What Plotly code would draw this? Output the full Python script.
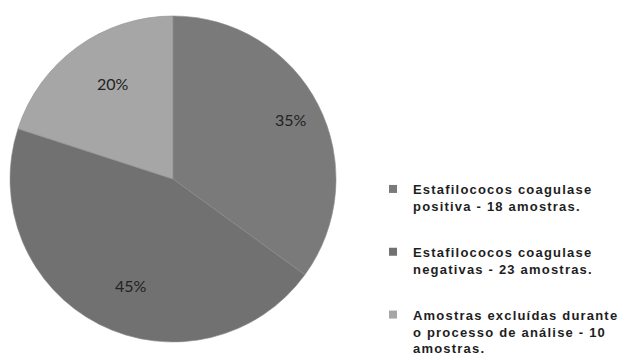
import math
import plotly.graph_objects as go

label_lines = [
    ["Estafilococos coagulase", "positiva - 18 amostras."],
    ["Estafilococos coagulase", "negativas - 23 amostras."],
    ["Amostras excluídas durante", "o processo de análise - 10", "amostras."],
]
values = [35, 45, 20]
pct_text = ["35%", "45%", "20%"]
colors = ["#7a7a7a", "#717171", "#a6a6a6"]

W, H = 618, 356
cx, cy, R = 173, 179, 163

plain_labels = [" ".join(l) for l in label_lines]
legend_labels = ["<br>".join('<span style="letter-spacing:1.2px">%s</span>' % s for s in l)
                 for l in label_lines]

fig = go.Figure()
fig.add_trace(go.Pie(
    labels=plain_labels,
    values=values,
    sort=False,
    direction="clockwise",
    rotation=0,
    marker=dict(colors=colors, line=dict(color="#8c8c8c", width=0.6)),
    textinfo="none",
    hoverinfo="label+percent",
    showlegend=False,
    domain=dict(x=[(cx - R) / W, (cx + R) / W], y=[(H - cy - R) / H, (H - cy + R) / H]),
))

# legend entries (one group each so the spacing between entries can be set)
for i, (name, c) in enumerate(zip(legend_labels, colors)):
    fig.add_trace(go.Scatter(
        x=[None], y=[None], mode="markers", name=name,
        marker=dict(symbol="square", size=8, color=c),
        legendgroup="g%d" % i, showlegend=True, hoverinfo="skip",
    ))

# percentage labels placed along each slice bisector
total = sum(values)
cum = 0
for v, t in zip(values, pct_text):
    mid = (cum + v / 2) / total * 2 * math.pi
    cum += v
    px = cx + 0.81 * R * math.sin(mid)
    py = cy - 0.81 * R * math.cos(mid)
    fig.add_annotation(x=px / W, y=1 - py / H, xref="paper", yref="paper",
                       text=t, showarrow=False,
                       font=dict(family="Lato", size=16, color="#222222"))

fig.update_layout(
    width=W, height=H,
    margin=dict(l=0, r=0, t=0, b=0, autoexpand=False),
    paper_bgcolor="white",
    plot_bgcolor="rgba(0,0,0,0)",
    xaxis=dict(visible=False),
    yaxis=dict(visible=False),
    legend=dict(
        x=373 / W, y=1 - 174 / H, xanchor="left", yanchor="top",
        valign="top", tracegroupgap=26, itemsizing="trace",
        font=dict(family="Liberation Sans", size=13, color="#1e1e1e", weight="bold"),
        bgcolor="rgba(0,0,0,0)",
    ),
    showlegend=True,
)
fig.write_html("out.html")
